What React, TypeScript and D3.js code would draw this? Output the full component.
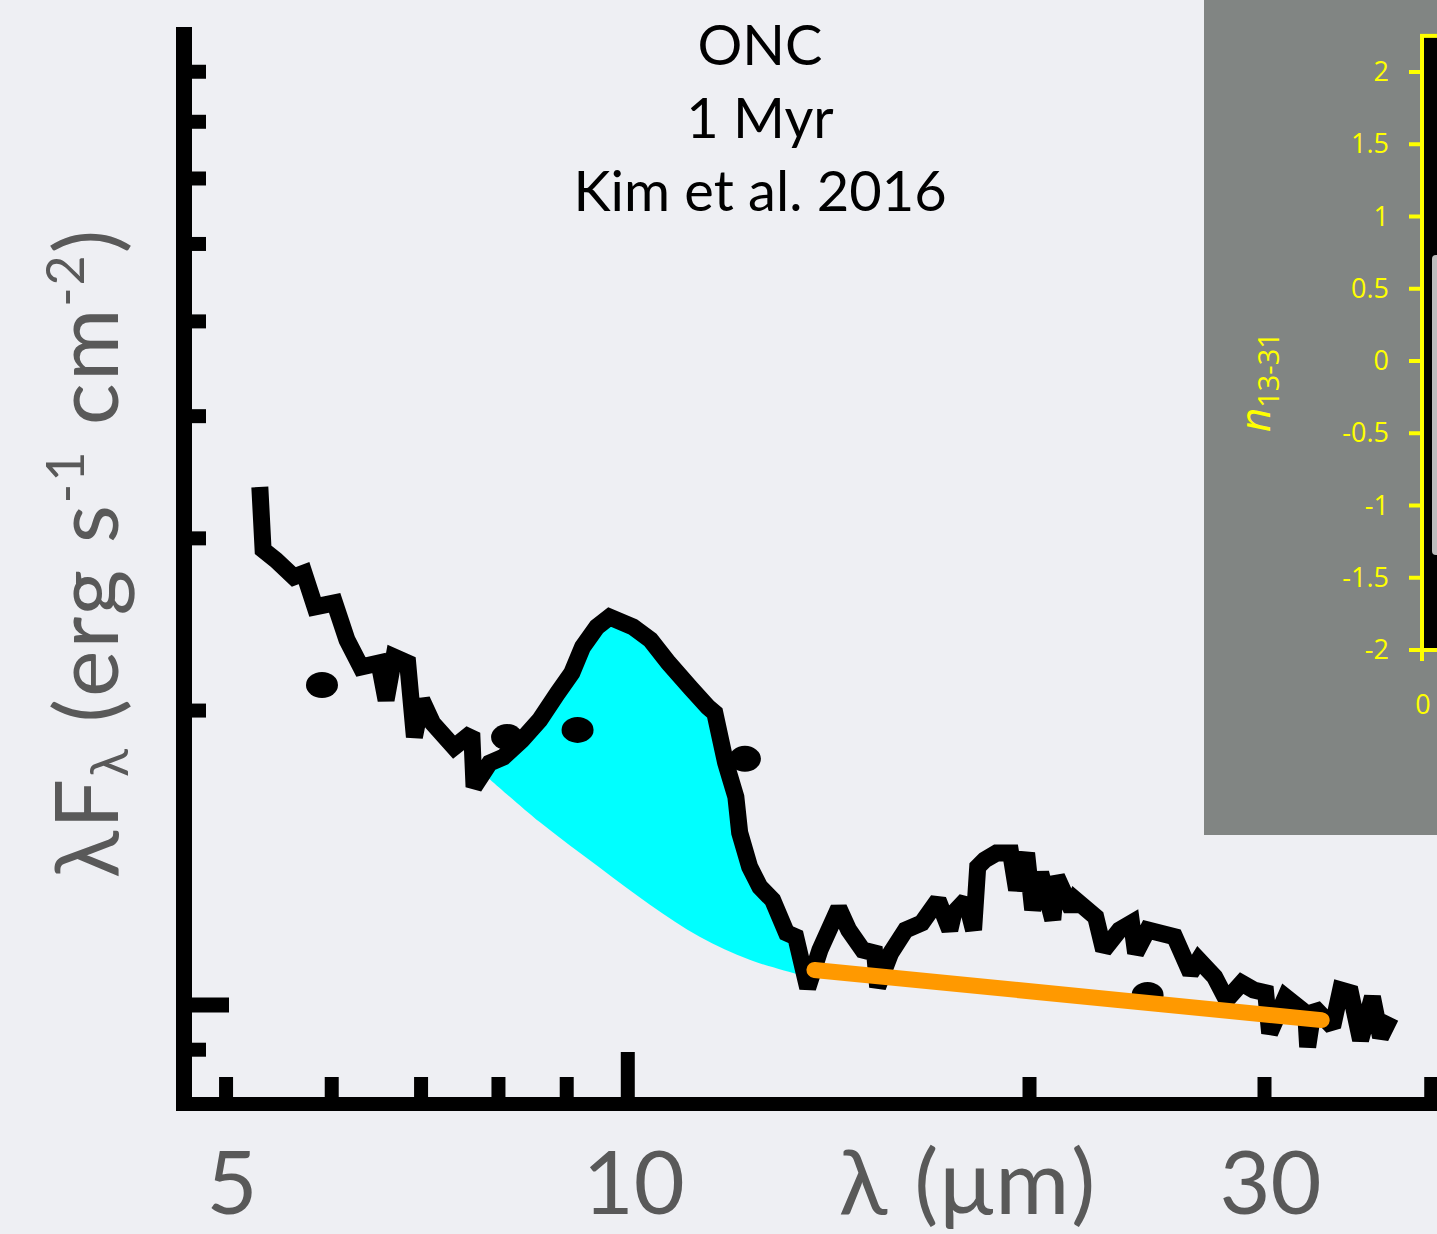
import React from "react";
import * as d3 from "d3";

// ---- data (wavelength in micron, flux in relative units of the long y tick) ----
const specWl = [
  5.30, 5.33, 5.45, 5.62, 5.72, 5.83, 6.03, 6.16, 6.31, 6.51,
  6.59, 6.68, 6.84, 6.92, 7.01, 7.14, 7.41, 7.64, 7.67, 7.88,
  8.07, 8.33, 8.59, 8.86, 9.08, 9.25, 9.48, 9.69, 10.09, 10.40,
  10.73, 11.13, 11.48, 11.62, 11.84, 12.05, 12.13, 12.34, 12.56, 12.84,
  13.15, 13.36, 13.64, 13.93, 14.39, 14.64, 15.0, 15.31, 15.39, 15.74,
  16.15, 16.61, 17.08, 17.43, 17.55, 17.92, 18.16, 18.29, 18.51, 18.89,
  19.36, 19.56, 19.90, 20.11, 20.39, 20.82, 20.96, 21.51, 21.66, 22.42,
  22.73, 23.36, 23.85, 24.02, 24.52, 25.69, 26.41, 26.78, 27.53, 28.10,
  28.84, 29.44, 30.06, 30.27, 31.11, 32.21, 32.32, 32.66, 33.74, 34.21,
  34.80, 35.41, 36.14, 36.65, 37.29,
];
const specFlux = [
  3.386, 2.92, 2.85, 2.74, 2.765, 2.553, 2.577, 2.362, 2.216, 2.237,
  2.05, 2.269, 2.237, 1.879, 2.05, 1.942, 1.835, 1.897, 1.671, 1.768,
  1.793, 1.866, 1.956, 2.084, 2.186, 2.323, 2.435, 2.493, 2.435, 2.362,
  2.237, 2.114, 2.017, 1.989, 1.768, 1.632, 1.5, 1.384, 1.32, 1.28,
  1.185, 1.174, 1.041, 1.138, 1.256, 1.193, 1.138, 1.130, 1.043, 1.130,
  1.193, 1.213, 1.28, 1.193, 1.242, 1.28, 1.193, 1.384, 1.407, 1.43,
  1.43, 1.311, 1.43, 1.251, 1.365, 1.222, 1.352, 1.251, 1.28, 1.230,
  1.138, 1.193, 1.213, 1.130, 1.193, 1.174, 1.078, 1.112, 1.068, 1.012,
  1.053, 1.036, 1.029, 0.936, 1.019, 0.981, 0.906, 0.995, 0.950, 1.036,
  1.029, 0.921, 1.019, 0.927, 0.972,
];

// silicate continuum under the 10 micron feature
const contWl = [7.77, 8.59, 9.53, 10.39, 11.32, 12.34, 13.45, 13.57];
const contFlux = [1.731, 1.538, 1.381, 1.266, 1.174, 1.112, 1.073, 1.068];

// photometry points
const photWl = [5.90, 8.12, 9.17, 12.24, 24.52];
const photFlux = [2.124, 1.879, 1.911, 1.785, 1.024];

// 13-31 micron power-law slope
const slopeWl = [13.80, 33.11];
const slopeFlux = [1.086, 0.965];

// axis ticks
const yMinorTicks = [0.9, 2, 3, 4, 5, 6, 7, 8, 9];
const yMajorTicks = [1];
const xMinorTicks = [5, 6, 7, 8, 9, 20, 30, 40];
const xMajorTicks = [10];
const xTickLabels = [5, 10, 30];

// inset axis
const insetTicks = [2, 1.5, 1, 0.5, 0, -0.5, -1, -1.5, -2];
const insetTickLabels = ["2", "1.5", "1", "0.5", "0", "-0.5", "-1", "-1.5", "-2"];

const titleLines = ["ONC", "1 Myr", "Kim et al. 2016"];

const W = 1437;
const H = 1234;
const FONT = "Lato, 'Open Sans', sans-serif";

export default function App() {
  const x = d3.scaleLog().domain([4.65, 40.4]).range([184, 1437]);
  const y = d3.scaleLog().domain([0.792, 10]).range([1104, 27]);

  const spec: [number, number][] = specWl.map((w, i) => [w, specFlux[i]]);
  const cont: [number, number][] = contWl.map((w, i) => [w, contFlux[i]]);

  const line = d3
    .line<[number, number]>()
    .x((d) => x(d[0]))
    .y((d) => y(d[1]));

  const contCurve = d3
    .line<[number, number]>()
    .x((d) => x(d[0]))
    .y((d) => y(d[1]))
    .curve(d3.curveCatmullRom);

  const wMin = contWl[0];
  const wMax = contWl[contWl.length - 1];
  const upper = spec.filter((d) => d[0] >= wMin && d[0] <= wMax);
  const lowerPath = (contCurve(cont.slice().reverse()) || "").replace(/^M/, "L");
  const fillPath = (line(upper) || "") + lowerPath + "Z";

  const yi = d3.scaleLinear().domain([-2, 2]).range([650, 72]);

  const axisX = x(4.65);
  const axisY = y(0.792);

  return (
    <svg
      width={W}
      height={H}
      style={{ position: "absolute", left: 0, top: 0 }}
      fontFamily={FONT}
    >
      <rect x={0} y={0} width={W} height={H} fill="#EEEFF3" />

      {/* title */}
      {titleLines.map((t, i) => (
        <text
          key={t}
          x={760}
          y={65 + i * 73}
          textAnchor="middle"
          fontSize={56}
          fill="#000"
        >
          {t}
        </text>
      ))}

      {/* cyan silicate feature fill */}
      <path d={fillPath} fill="#00FFFF" stroke="none" />

      {/* photometry */}
      {photWl.map((w, i) => (
        <ellipse
          key={i}
          cx={x(w)}
          cy={y(photFlux[i])}
          rx={16}
          ry={13}
          fill="#000"
        />
      ))}

      {/* spectrum */}
      <path
        d={line(spec) || ""}
        fill="none"
        stroke="#000"
        strokeWidth={17}
        strokeLinejoin="miter"
        strokeMiterlimit={2}
      />

      {/* power-law slope */}
      <path
        d={line(slopeWl.map((w, i) => [w, slopeFlux[i]] as [number, number])) || ""}
        fill="none"
        stroke="#FF9900"
        strokeWidth={16}
        strokeLinecap="round"
      />

      {/* axes */}
      <line x1={axisX} x2={axisX} y1={27} y2={axisY + 7} stroke="#000" strokeWidth={16} />
      <line x1={axisX - 8} x2={W + 10} y1={axisY} y2={axisY} stroke="#000" strokeWidth={14} />
      {yMinorTicks.map((t) => (
        <line key={"ym" + t} x1={axisX} x2={206} y1={y(t)} y2={y(t)} stroke="#000" strokeWidth={14} />
      ))}
      {yMajorTicks.map((t) => (
        <line key={"yM" + t} x1={axisX} x2={229} y1={y(t)} y2={y(t)} stroke="#000" strokeWidth={15} />
      ))}
      {xMinorTicks.map((t) => (
        <line key={"xm" + t} x1={x(t)} x2={x(t)} y1={axisY} y2={1077} stroke="#000" strokeWidth={14} />
      ))}
      {xMajorTicks.map((t) => (
        <line key={"xM" + t} x1={x(t)} x2={x(t)} y1={axisY} y2={1052} stroke="#000" strokeWidth={14} />
      ))}
      {xTickLabels.map((t) => (
        <text key={"xl" + t} x={x(t) + 6} y={1214} textAnchor="middle" fontSize={88} fill="#595959">
          {t}
        </text>
      ))}
      <text x={968} y={1214} textAnchor="middle" fontSize={90} fill="#595959" letterSpacing={2}>
        λ (μm)
      </text>

      {/* y label */}
      <text
        transform="translate(118,553) rotate(-90)"
        textAnchor="middle"
        fontSize={88}
        fill="#595959"
        letterSpacing={2}
      >
        λF
        <tspan dy={10} fontSize={52}>λ</tspan>
        <tspan dy={-10}> (erg s</tspan>
        <tspan dy={-34} fontSize={52}>-1</tspan>
        <tspan dy={34}>  cm</tspan>
        <tspan dy={-34} fontSize={52}>-2</tspan>
        <tspan dy={34}>)</tspan>
      </text>

      {/* inset panel */}
      <rect x={1204} y={0} width={W - 1204 + 10} height={835} fill="#818583" />
      <rect
        x={1422}
        y={yi(2.25)}
        width={40}
        height={yi(-2) - yi(2.25)}
        fill="#000"
        stroke="#FFFF00"
        strokeWidth={4}
      />
      <rect x={1432} y={255} width={20} height={300} rx={4} fill="#BDBDBD" />
      {insetTicks.map((t, i) => (
        <g key={"it" + t}>
          <line x1={1409} x2={1422} y1={yi(t)} y2={yi(t)} stroke="#FFFF00" strokeWidth={4} />
          <text
            x={1389}
            y={yi(t) + 9}
            textAnchor="end"
            fontSize={27}
            fill="#FFFF00"
            fontFamily="'Open Sans', sans-serif"
          >
            {insetTickLabels[i]}
          </text>
        </g>
      ))}
      <line x1={1422} x2={1422} y1={650} y2={661} stroke="#FFFF00" strokeWidth={4} />
      <text x={1423} y={714} textAnchor="middle" fontSize={27} fill="#FFFF00" fontFamily="'Open Sans', sans-serif">
        0
      </text>
      <text
        transform="translate(1270,432) rotate(-90)"
        fontSize={42}
        fill="#FFFF00"
        fontFamily="'Open Sans', sans-serif"
      >
        <tspan fontStyle="italic">n</tspan>
        <tspan dy={9} fontSize={29}>13-31</tspan>
      </text>
    </svg>
  );
}
